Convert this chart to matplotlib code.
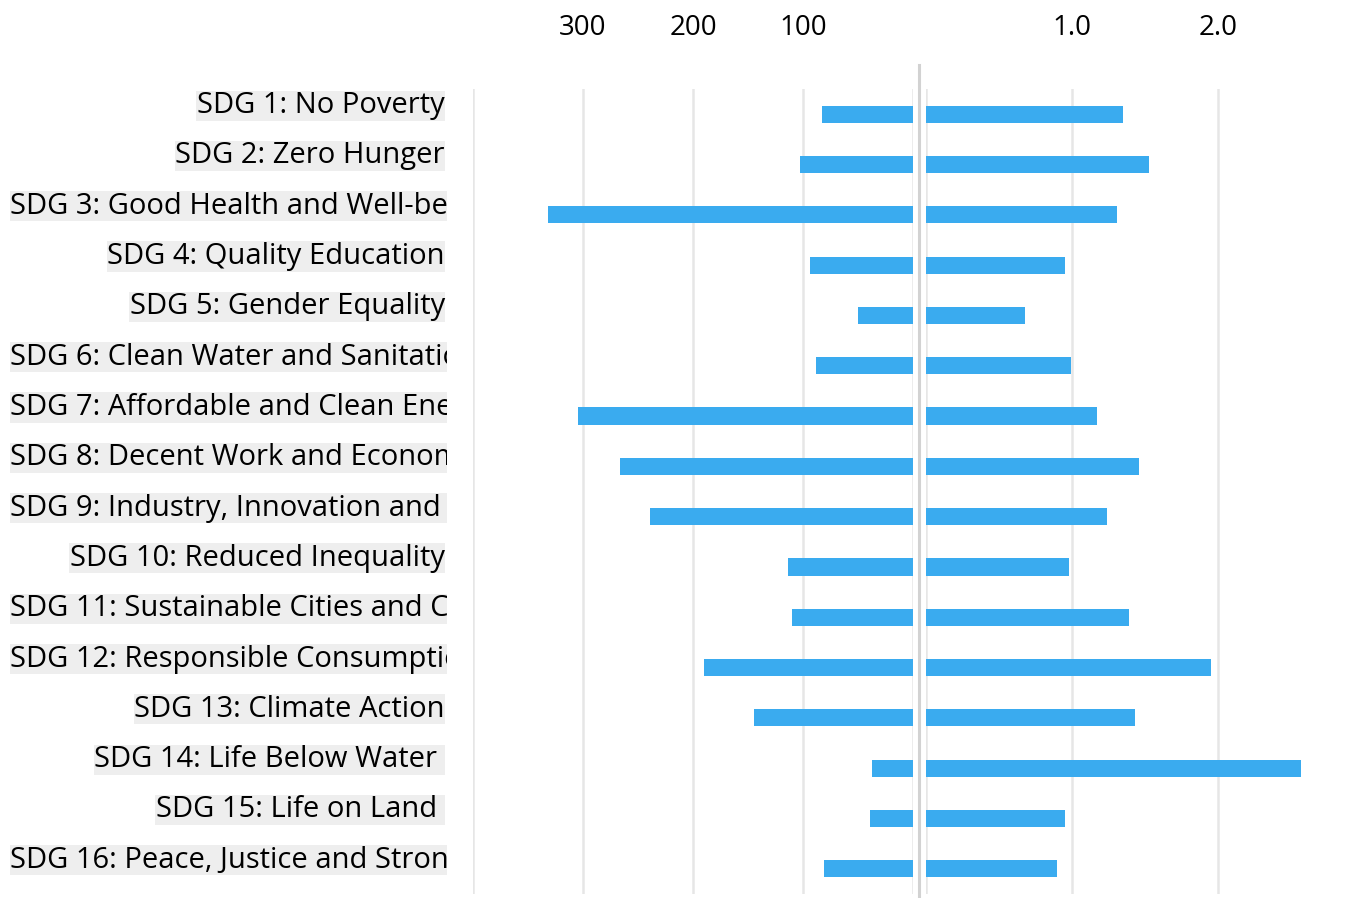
import matplotlib.pyplot as plt
from matplotlib.lines import Line2D

# SDG categories and the two measures shown on each side
goals = [
    "SDG 1: No Poverty",
    "SDG 2: Zero Hunger",
    "SDG 3: Good Health and Well-being",
    "SDG 4: Quality Education",
    "SDG 5: Gender Equality",
    "SDG 6: Clean Water and Sanitation",
    "SDG 7: Affordable and Clean Energy",
    "SDG 8: Decent Work and Economic Growth",
    "SDG 9: Industry, Innovation and Infrastructure",
    "SDG 10: Reduced Inequality",
    "SDG 11: Sustainable Cities and Communities",
    "SDG 12: Responsible Consumption and Production",
    "SDG 13: Climate Action",
    "SDG 14: Life Below Water ",
    "SDG 15: Life on Land ",
    "SDG 16: Peace, Justice and Strong Institutions",
]
publications = [83, 103, 332, 94, 50, 88, 305, 266, 239, 114, 110, 190, 145, 37, 39, 81]
impact = [1.35, 1.53, 1.31, 0.95, 0.68, 0.99, 1.17, 1.46, 1.24, 0.98, 1.39, 1.95, 1.43, 2.57, 0.95, 0.90]

left_ticks = [400, 300, 200, 100, 0]
left_labels = ["", "300", "200", "100", ""]
right_ticks = [0, 1.0, 2.0]
right_labels = ["", "1.0", "2.0"]

BAR = "#3aabef"
GRID = "#e6e6e6"
W, H = 1361, 898

fig = plt.figure(figsize=(W / 100, H / 100), dpi=100)


def px_axes(x0, y0, x1, y1):
    # axes from a pixel box measured from the top-left corner
    return fig.add_axes([x0 / W, 1 - y1 / H, (x1 - x0) / W, (y1 - y0) / H])


rows = list(range(len(goals)))
ax_l = px_axes(473, 89, 913, 894)
ax_r = px_axes(926, 89, 1361, 894)

for ax, vals, ticks, labels, lim in [
    (ax_l, publications, left_ticks, left_labels, (400, 0)),
    (ax_r, impact, right_ticks, right_labels, (0, 2.98)),
]:
    ax.barh(rows, vals, height=0.34, color=BAR, zorder=3)
    ax.set_xlim(*lim)
    ax.set_ylim(len(goals) - 0.5, -0.5)
    ax.set_xticks(ticks)
    ax.set_xticklabels(labels, family=["Open Sans", "DejaVu Sans"])
    ax.set_yticks([])
    ax.xaxis.tick_top()
    ax.tick_params(axis="x", length=0, pad=34, labelsize=20)
    ax.grid(axis="x", color=GRID, linewidth=1.8, zorder=0)
    for s in ax.spines.values():
        s.set_visible(False)
    ax.set_facecolor("none")

# centre divider
fig.add_artist(Line2D([919 / W, 919 / W], [0, 1 - 65 / H], color="#d2d2d2", linewidth=2.2))

# category labels, clipped where they run past the label column
lab = px_axes(10, 89, 447, 894)
lab.set_xlim(0, 1)
lab.set_ylim(len(goals) - 0.5, -0.5)
lab.axis("off")
texts = []
for i, g in enumerate(goals):
    t = lab.text(0.995, i - 0.17, g, ha="right", va="center", fontsize=21,
                 family=["Open Sans", "DejaVu Sans"], clip_on=True,
                 bbox=dict(boxstyle="square,pad=0.02", facecolor="#eeeeee", edgecolor="none"))
    texts.append(t)

fig.canvas.draw()
r = fig.canvas.get_renderer()
box = lab.get_window_extent(r)
for t in texts:
    if t.get_window_extent(r).x0 < box.x0:
        t.set_ha("left")
        t.set_x(0.0)

fig.savefig("out.png", dpi=100)
